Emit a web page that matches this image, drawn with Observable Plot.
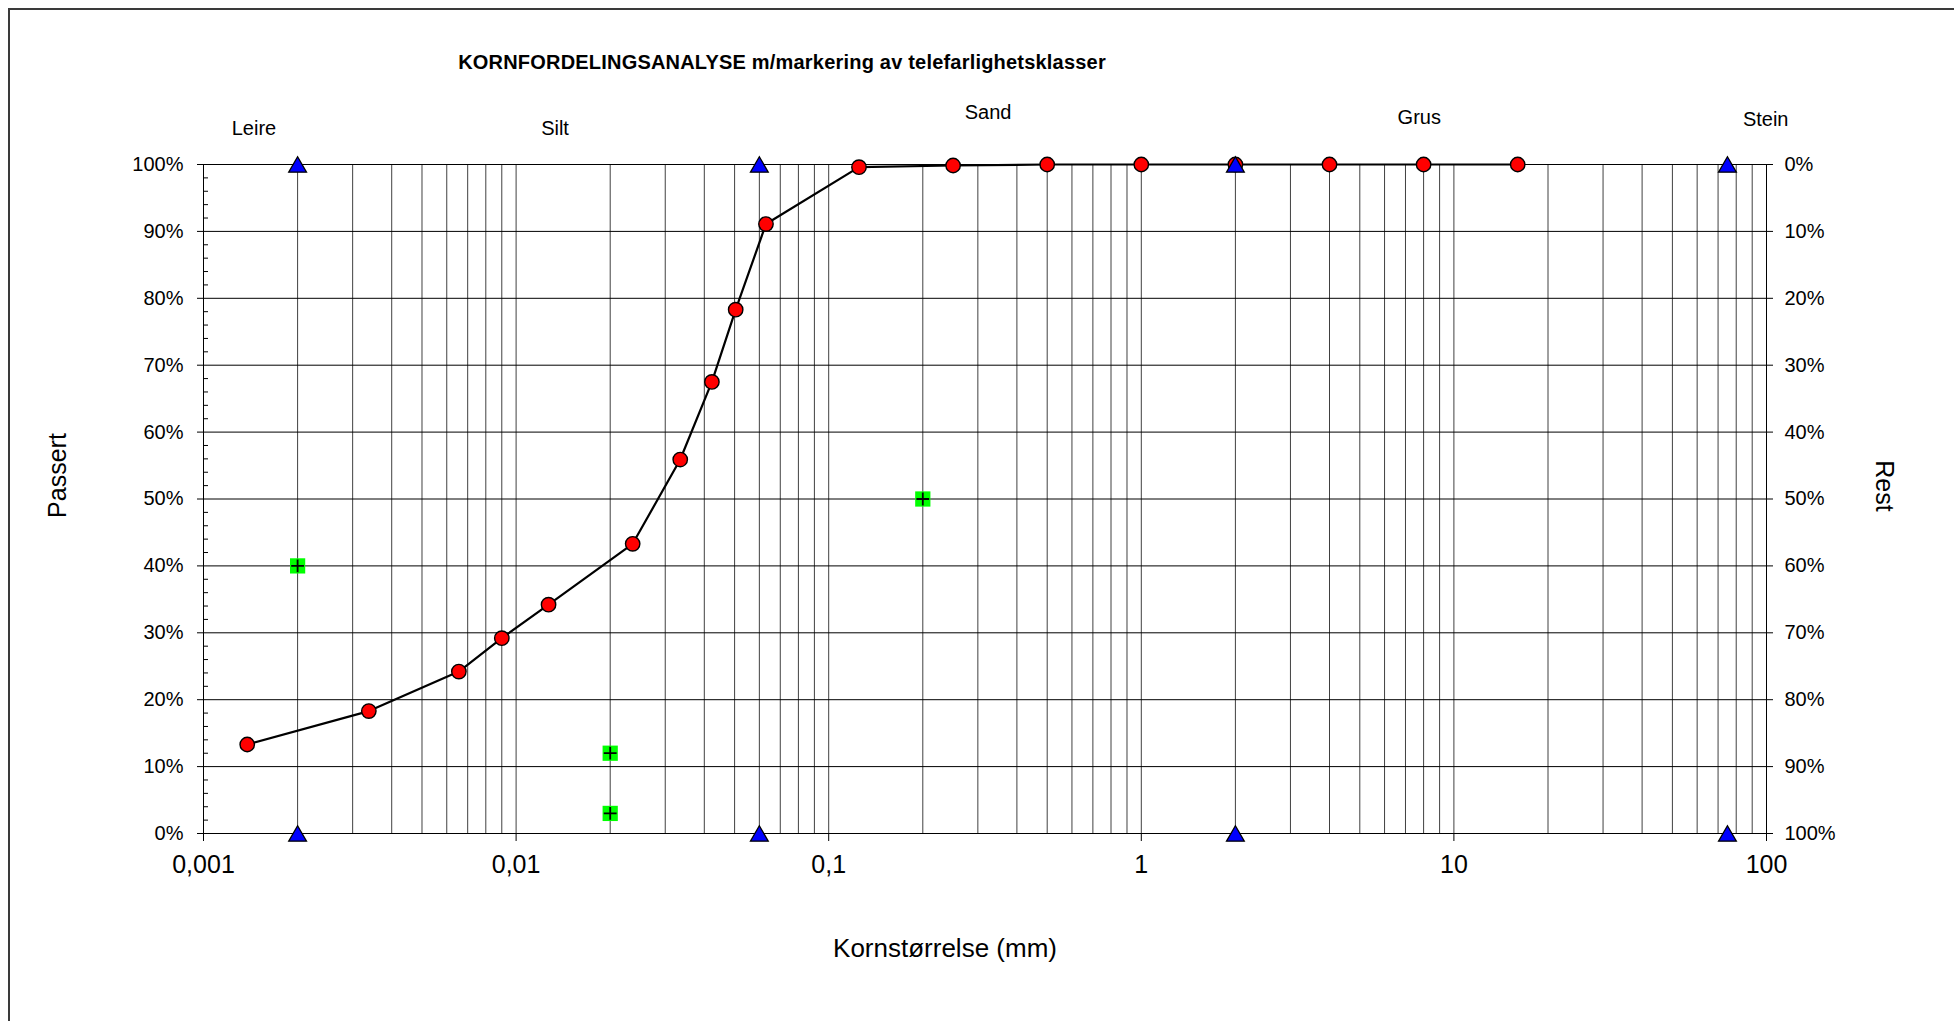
<!DOCTYPE html>
<html>
<head>
<meta charset="utf-8">
<script src="https://cdn.jsdelivr.net/npm/d3@7"></script>
<script src="https://cdn.jsdelivr.net/npm/@observablehq/plot@0.6"></script>
<style>
  html, body { margin: 0; padding: 0; background: #fff; overflow: hidden; }
  #wrap { position: relative; width: 1954px; height: 1021px; font-family: "Liberation Sans", Arial, sans-serif; }
  #frameBorder { position: absolute; left: 8px; top: 8px; width: 2100px; height: 1100px;
    border-top: 2px solid #3a3a3a; border-left: 2px solid #3a3a3a; pointer-events: none; z-index: 2; }
  #titleBox { position: relative; height: 90px; }
  #title { position: absolute; left: 782px; top: 52px; transform: translateX(-50%); white-space: nowrap;
    font-size: 20px; line-height: 20px; font-weight: bold; letter-spacing: 0.2px; color: #000; }
</style>
</head>
<body>
<div id="wrap">
  <div id="frameBorder"></div>
  <div id="titleBox"><div id="title">KORNFORDELINGSANALYSE m/markering av telefarlighetsklasser</div></div>
  <div id="chart"></div>
</div>
<script>
// ---- data ----
const sizesMm   = [0.00138, 0.00338, 0.00656, 0.0090, 0.0127, 0.0236, 0.0335, 0.0423, 0.0504, 0.063, 0.125, 0.25, 0.5, 1, 2, 4, 8, 16];
const passedPct = [13.3, 18.3, 24.2, 29.2, 34.2, 43.3, 55.9, 67.5, 78.3, 91.1, 99.6, 99.85, 100, 100, 100, 100, 100, 100];

const classBoundsMm = [0.002, 0.06, 2, 75];
const classBoundsPct = [0, 100];

const hydroX = [0.002, 0.02, 0.02, 0.2];
const hydroY = [40, 12, 3, 50];

const zoneNames = ["Leire", "Silt", "Sand", "Grus", "Stein"];
const zoneX     = [0.00145, 0.01332, 0.3236, 7.75, 99.4];
const zoneDy    = [-35.5, -36, -51.5, -47, -45];

const xTickValues = [0.001, 0.01, 0.1, 1, 10, 100];
const yTickValues = [0, 10, 20, 30, 40, 50, 60, 70, 80, 90, 100];
const yMinorTicks = d3.range(0, 101, 2).filter(d => d % 10 !== 0);
const xGridValues = d3.range(-3, 2).flatMap(e => d3.range(1, 10).map(m => +(m * Math.pow(10, e)).toPrecision(6))).concat([100]);

// ---- tables for marks ----
const curve = sizesMm.map((x, i) => ({x, y: passedPct[i]}));
const tri = classBoundsMm.flatMap(x => classBoundsPct.map(y => ({x, y})));
const hydro = hydroX.map((x, i) => ({x, y: hydroY[i]}));
const zones = zoneNames.map((name, i) => ({name, x: zoneX[i], dy: zoneDy[i]}));

const plot = Plot.plot({
  width: 1954,
  height: 931,
  marginTop: 74,
  marginRight: 188,
  marginBottom: 188,
  marginLeft: 203,
  x: {type: "log", domain: [0.001, 100]},
  y: {domain: [0, 100]},
  style: {fontFamily: "'Liberation Sans', Arial, sans-serif", fontSize: "20px", color: "#000", background: "#fff"},
  marks: [
    Plot.gridX(xGridValues, {stroke: "#404040", strokeOpacity: 1, strokeWidth: 1}),
    Plot.gridY(yTickValues, {stroke: "#000", strokeOpacity: 1, strokeWidth: 1}),
    Plot.tickY(yMinorTicks, {y: d => d, stroke: "#000", insetRight: 1558}),
    Plot.frame({stroke: "#000"}),
    Plot.axisX({ticks: xTickValues, tickSize: 8, tickPadding: 14, fontSize: 25, label: null,
      tickFormat: d => String(d).replace(".", ",")}),
    Plot.axisY({ticks: yTickValues, anchor: "left", tickSize: 6, tickPadding: 14, fontSize: 20, label: null,
      tickFormat: d => d + "%"}),
    Plot.axisY({ticks: yTickValues, anchor: "right", tickSize: 6, tickPadding: 12, fontSize: 20, label: null,
      tickFormat: d => (100 - d) + "%"}),
    Plot.line(curve, {x: "x", y: "y", stroke: "#000", strokeWidth: 2.2}),
    Plot.dot(curve, {x: "x", y: "y", r: 7.2, fill: "#ff0000", stroke: "#000", strokeWidth: 1.4}),
    Plot.dot(tri, {x: "x", y: "y", symbol: "triangle", r: 6.6, fill: "#0000ff", stroke: "#000", strokeWidth: 1.3, dy: 2.5}),
    Plot.dot(hydro, {x: "x", y: "y", symbol: "square", r: 8.6, fill: "#00ff00", stroke: "none"}),
    Plot.dot(hydro, {x: "x", y: "y", symbol: "plus", r: 4.2, fill: "none", stroke: "#000", strokeWidth: 1.8}),
    ...zones.map(z => Plot.text([z], {x: "x", y: () => 100, text: "name", dy: z.dy, fontSize: 20, textAnchor: "middle", lineAnchor: "middle"})),
    Plot.text(["Passert"], {frameAnchor: "left", dx: -146, dy: -23.5, rotate: -90, fontSize: 25, textAnchor: "middle", lineAnchor: "middle"}),
    Plot.text(["Rest"], {frameAnchor: "right", dx: 117.5, dy: -13, rotate: 90, fontSize: 25, textAnchor: "middle", lineAnchor: "middle"}),
    Plot.text(["Kornstørrelse (mm)"], {frameAnchor: "bottom", dx: -40, dy: 114.7, fontSize: 26, textAnchor: "middle", lineAnchor: "middle"})
  ]
});
document.getElementById("chart").appendChild(plot);
</script>
</body>
</html>
